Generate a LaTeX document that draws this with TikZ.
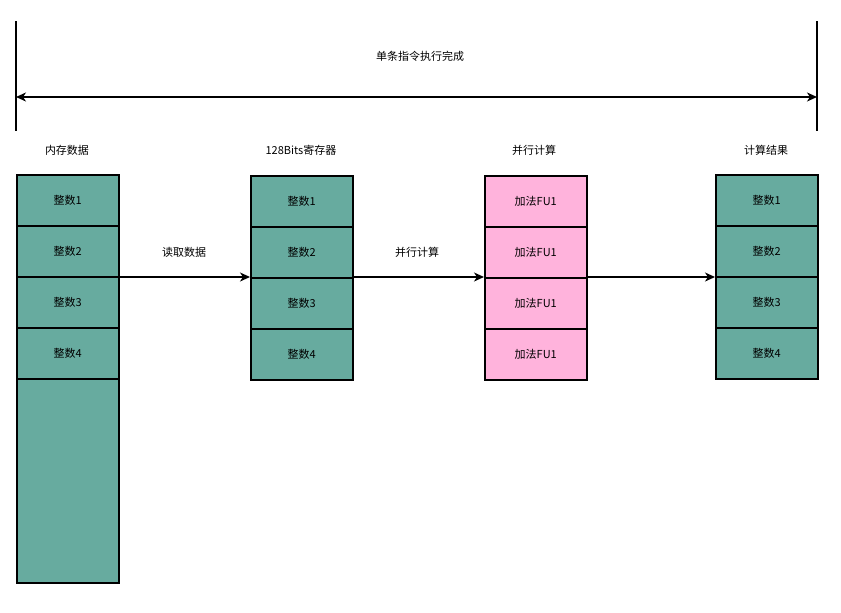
\documentclass[tikz,border=0pt]{standalone}
\usepackage{fontspec}
\setmainfont{Noto Sans CJK SC}
\usetikzlibrary{arrows.meta}
\definecolor{tealc}{HTML}{67AB9F}
\definecolor{pinkc}{HTML}{FFB3DC}
\begin{document}
\begin{tikzpicture}[x=1pt,y=-1pt,
  cell/.style={draw=black,line width=1.5pt,minimum width=102pt,minimum height=51pt,inner sep=0pt,font=\fontsize{11}{13}\selectfont,anchor=north west},
  tcell/.style={cell,fill=tealc},
  pcell/.style={cell,fill=pinkc},
  lbl/.style={font=\fontsize{11}{13}\selectfont,inner sep=0pt},
  tip/.style={Stealth[length=10pt,width=9pt,inset=3pt]},
  arr/.style={-{Stealth[length=10pt,width=9pt,inset=3pt]},line width=1.5pt}]
\useasboundingbox (0,0) rectangle (841,613);
% top span
\coordinate (tl1) at (16,21); \coordinate (tl2) at (16,131);
\coordinate (tr1) at (817,21); \coordinate (tr2) at (817,131);
\draw[line width=1.5pt] (tl1) -- (tl2);
\draw[line width=1.5pt] (tr1) -- (tr2);
\coordinate (al) at (16,97); \coordinate (ar) at (817,97);
\draw[{Stealth[length=10pt,width=9pt,inset=3pt]}-{Stealth[length=10pt,width=9pt,inset=3pt]},line width=2pt] (al) -- (ar);
\node[lbl] (title) at (420,56) {单条指令执行完成};
% column headers
\node[lbl] (h1) at (67,150) {内存数据};
\node[lbl] (h2) at (301,150) {128Bits寄存器};
\node[lbl] (h3) at (534,150) {并行计算};
\node[lbl] (h4) at (766,150) {计算结果};
% column 1
\node[tcell] (a1) at (16,174) {整数1};
\node[tcell] (a2) at (16,225) {整数2};
\node[tcell] (a3) at (16,276) {整数3};
\node[tcell] (a4) at (16,327) {整数4};
\node[tcell,minimum height=204pt] (a5) at (16,378) {};
% column 2
\node[tcell] (b1) at (250,175) {整数1};
\node[tcell] (b2) at (250,226) {整数2};
\node[tcell] (b3) at (250,277) {整数3};
\node[tcell] (b4) at (250,328) {整数4};
% column 3
\node[pcell] (c1) at (484,175) {加法FU1};
\node[pcell] (c2) at (484,226) {加法FU1};
\node[pcell] (c3) at (484,277) {加法FU1};
\node[pcell] (c4) at (484,328) {加法FU1};
% column 4
\node[tcell] (d1) at (715,174) {整数1};
\node[tcell] (d2) at (715,225) {整数2};
\node[tcell] (d3) at (715,276) {整数3};
\node[tcell] (d4) at (715,327) {整数4};
% arrows
\draw[arr] (a3.north east |- b3.north) -- (b3.north west);
\draw[arr] (b3.north east) -- (c3.north west);
\draw[arr] (c3.north east) -- (d3.north west |- c3.north);
\node[lbl] (l1) at (184,252) {读取数据};
\node[lbl] (l2) at (417,252) {并行计算};
\end{tikzpicture}
\end{document}
